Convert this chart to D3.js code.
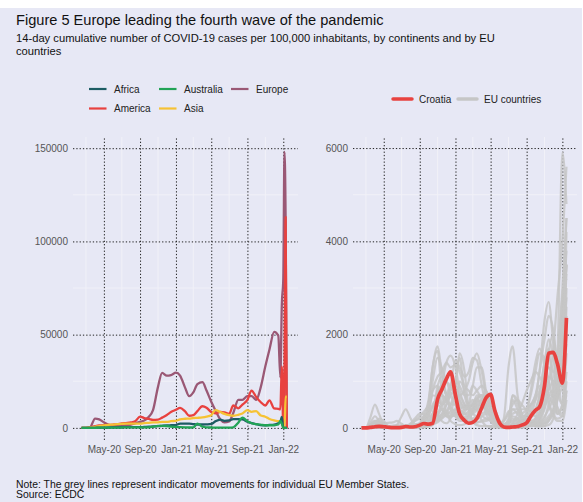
<!DOCTYPE html>
<html>
<head>
<meta charset="utf-8">
<script src="https://cdn.jsdelivr.net/npm/d3@7"></script>
<style>
  body { margin: 0; background: #fff; }
  svg { display: block; font-family: "Liberation Sans", Arial, sans-serif; }
</style>
</head>
<body>
<script>
// ---- data ----
// continents panel: semi-monthly points, then a short tail at the end of 2021
var leftDates = ["2020-02-15","2020-03-01","2020-03-15","2020-04-01","2020-04-15","2020-05-01","2020-05-15","2020-06-01","2020-06-15","2020-07-01","2020-07-15","2020-08-01","2020-08-15","2020-09-01","2020-09-15","2020-10-01","2020-10-15","2020-11-01","2020-11-15","2020-12-01","2020-12-15",
  "2021-01-01","2021-01-15","2021-02-01","2021-02-15","2021-03-01","2021-03-15","2021-04-01","2021-04-15","2021-05-01","2021-05-15","2021-06-01","2021-06-15","2021-07-01","2021-07-15","2021-08-01","2021-08-15","2021-09-01","2021-09-15","2021-10-01","2021-10-15","2021-11-01","2021-11-15","2021-12-01","2021-12-15",
  "2021-12-22","2021-12-27","2022-01-01","2022-01-05","2022-01-09","2022-01-13"];

var africa    = [0,0,0,50,100,150,200,250,300,350,400,400,400,400,500,600,800,900,1100,1300,1400,1500,2300,2300,2300,2000,1800,1800,1900,2100,3500,4400,3800,4000,4700,4700,4500,3300,2600,2000,1500,1400,1600,1800,2500, 3200,5900,0,0,0,0];
var america   = [0,0,300,900,1300,1500,1600,1800,2000,2400,2600,2900,3500,6000,5300,4800,4300,4400,5500,6900,8500,9700,10700,8800,6500,6800,9000,11600,10800,8500,7800,8600,8300,7500,12000,10500,12500,15000,20000,16500,14000,12000,14800,10400,10200, 10000,33000,0,30000,113000,0];
var australia = [0,0,0,50,100,100,100,100,150,200,300,300,300,300,300,300,600,1100,1100,1000,700,500,400,300,200,300,2300,600,300,200,100,100,100,100,300,2800,5500,3500,2500,2000,1800,1400,1400,1400,1800, 3800,2300,0,0,0,0];
var asia      = [0,0,200,500,1000,1300,1600,1800,2000,2200,2300,2300,2300,2300,2500,2700,2900,3000,3200,3200,3600,3800,4600,4900,5000,5300,5400,5600,6000,6800,9500,8500,7500,6800,6500,7000,7700,9500,8600,9000,6800,6000,4800,4000,3600, 3300,3200,0,0,16700,16700];
var europe    = [0,0,300,5000,4600,3000,1800,1100,1000,1000,1300,1800,2400,3200,4000,6000,9500,22000,29500,28000,28300,29600,28000,21600,17000,19000,23500,24500,20000,14000,9500,4500,3000,3500,8000,15000,15000,17000,17000,15000,21000,33000,42000,51500,49500, 27000,66000,80000,148000,110000,0];

var continentNames  = ["Africa","Australia","Europe","America","Asia"];
var continentColors = ["#1d5c63","#22a356","#9a5875","#e8413f","#f6c234"];

// EU panel: semi-monthly points
var rightDates = ["2020-02-15","2020-03-01","2020-03-15","2020-04-01","2020-04-15","2020-05-01","2020-05-15","2020-06-01","2020-06-15","2020-07-01","2020-07-15","2020-08-01","2020-08-15","2020-09-01","2020-09-15","2020-10-01","2020-10-15","2020-11-01","2020-11-15","2020-12-01","2020-12-15",
  "2021-01-01","2021-01-15","2021-02-01","2021-02-15","2021-03-01","2021-03-15","2021-04-01","2021-04-15","2021-05-01","2021-05-15","2021-06-01","2021-06-15","2021-07-01","2021-07-15","2021-08-01","2021-08-15","2021-09-01","2021-09-15","2021-10-01","2021-10-15","2021-11-01","2021-11-15","2021-12-01","2021-12-15",
  "2022-01-01","2022-01-15"];

var croatia = [0,0,10,25,35,25,15,5,5,10,30,20,25,60,95,80,100,620,820,1050,1200,700,300,160,100,120,200,440,640,720,380,100,20,10,20,30,60,110,250,380,450,900,1600,1620,1380,960,2360];

var euCountries = [
  [0,0,5,20,25,15,10,8,10,15,30,30,35,80,250,600,1300,1750,1200,700,900,1450,1300,1100,1200,1500,1450,900,500,300,130,50,20,15,20,20,25,40,60,80,200,700,1600,2000,1300,900,1800],
  [0,0,10,40,30,10,5,2,5,15,20,15,10,30,90,300,800,1100,1200,1400,1300,1350,1200,900,800,700,800,900,800,600,350,150,60,20,30,60,100,300,500,700,1200,2300,2700,1800,900,900,2600],
  [0,5,30,120,150,80,30,15,10,15,40,50,40,60,150,500,1300,1650,800,350,250,280,250,230,260,350,450,500,400,300,200,100,60,100,150,200,200,190,220,350,700,1400,1900,1500,900,1300,4200],
  [0,5,200,500,300,70,20,15,60,250,400,200,80,100,180,400,1000,1500,1300,1000,900,700,500,400,400,500,600,500,400,300,200,100,60,80,200,150,150,120,150,200,350,700,1100,1000,900,1800,3500],
  [0,0,10,70,80,50,15,8,5,5,15,40,40,60,180,400,700,650,500,600,800,950,600,450,450,500,550,600,600,550,400,150,60,100,600,400,200,120,100,150,300,900,1500,1200,700,900,3000],
  [0,5,30,40,40,30,15,10,5,5,5,15,20,30,50,60,80,150,200,300,500,700,350,150,90,100,120,140,150,200,220,150,70,100,250,200,100,50,40,60,180,450,900,1700,2800,4000,5600],
  [0,0,20,100,200,150,50,10,5,5,10,20,60,80,150,300,450,300,150,100,200,1000,1500,700,400,300,250,250,200,150,100,100,150,300,500,600,500,400,500,600,800,1100,1300,1200,1600,5900,4800],
  [0,0,10,30,20,5,2,0,0,0,2,5,10,15,20,40,80,120,200,350,500,500,400,300,250,300,400,600,800,400,150,50,200,1300,1750,700,300,150,100,90,120,250,400,600,700,2500,4500],
  [0,0,30,150,120,60,40,50,60,50,30,20,20,40,80,150,300,600,700,600,500,900,1600,1200,400,150,60,40,40,40,50,80,150,350,400,300,200,150,90,60,80,150,250,400,700,2200,3800],
  [0,0,30,50,30,10,3,2,2,3,5,5,10,20,40,60,100,150,250,500,700,800,700,800,1000,1400,1600,1200,700,400,200,60,20,20,80,200,300,400,700,1200,1600,1500,1000,600,300,500,2000],
  [0,0,1,5,10,10,5,2,1,1,2,5,20,100,250,300,450,700,900,1000,700,500,300,350,500,900,1300,1300,800,400,150,30,10,5,5,5,10,30,80,200,600,1000,1300,900,400,250,800],
  [0,0,5,20,10,5,2,2,3,5,10,10,15,40,120,250,500,600,500,600,800,1000,900,700,700,900,800,600,300,150,50,20,10,5,10,20,50,150,300,600,1200,1900,2400,2100,1200,500,1200],
  [0,0,10,20,10,5,5,3,2,2,5,10,20,30,40,80,200,500,900,1400,1550,1300,800,500,400,400,500,600,700,600,400,150,50,40,100,300,500,800,1000,1200,1100,900,700,500,350,400,1600],
  [0,0,100,250,150,40,10,5,5,10,30,100,200,300,300,250,300,500,400,250,220,400,1000,800,400,150,120,150,200,200,150,100,80,200,700,600,300,150,80,40,40,50,150,400,1100,2800,3200],
  [0,0,5,10,10,5,2,1,1,1,1,2,3,5,10,30,80,200,300,500,700,800,700,500,400,400,400,450,500,400,200,60,20,20,30,60,150,350,800,1400,1700,1300,600,300,200,250,1000],
  [0,0,20,120,100,40,10,10,10,20,40,60,150,250,350,500,800,900,500,250,250,300,400,450,450,500,600,700,600,400,250,100,50,100,400,400,250,150,100,80,100,200,500,800,1500,3000,4500],
  [0,0,60,150,50,10,5,5,10,15,30,50,60,80,150,200,300,900,1100,700,400,300,250,300,350,400,500,500,400,250,100,40,20,20,50,100,200,280,300,400,700,1400,1700,700,300,500,2400],
  [0,0,60,130,100,50,15,8,5,5,5,8,20,35,40,50,150,500,700,600,450,350,350,300,300,400,600,550,450,300,200,80,30,20,40,120,150,120,90,60,60,100,200,350,600,1800,3500],
  [0,0,20,80,80,40,15,8,5,5,8,12,20,25,25,30,60,200,280,300,350,400,300,200,130,130,180,250,300,280,150,40,15,10,15,40,100,150,150,120,150,400,700,700,450,300,800],
  [0,0,2,15,20,20,20,15,15,10,10,15,20,20,25,60,250,800,900,700,400,250,200,180,200,350,600,700,500,250,100,30,10,5,5,5,10,20,50,120,250,500,800,1000,750,500,700],
  [0,0,10,60,90,100,110,120,150,90,40,30,20,20,30,60,120,300,500,700,900,800,600,450,450,550,650,700,650,500,300,100,40,30,60,100,150,150,100,80,80,100,150,300,600,1500,2800],
  [0,0,5,10,10,5,2,1,1,2,5,20,40,50,50,60,100,250,400,300,150,80,60,80,150,200,250,300,350,300,250,120,80,150,300,350,400,400,350,250,250,450,700,800,700,1800,3300],
  [0,0,20,60,50,20,5,2,1,1,5,80,150,200,250,150,200,300,400,350,300,250,300,400,500,600,400,150,50,20,10,5,5,50,700,500,300,150,80,40,30,40,60,200,700,2200,3500],
  [0,0,2,5,8,8,10,15,20,40,60,60,40,30,30,50,150,600,900,700,450,250,150,150,250,450,700,700,450,200,80,20,10,5,10,30,80,200,400,700,900,800,500,250,150,150,600]
];

var leftTicks  = [0, 50000, 100000, 150000];
var rightTicks = [0, 2000, 4000, 6000];
var dateTicks  = ["2020-05-01","2020-09-01","2021-01-01","2021-05-01","2021-09-01","2022-01-01"];
var minorDates = ["2020-03-01","2020-07-01","2020-11-01","2021-03-01","2021-07-01","2021-11-01"];

// ---- setup ----
var W = 583, H = 502;
var parseDate = d3.timeParse("%Y-%m-%d");
var bg = "#e7e8f5";

var svg = d3.select("body").append("svg")
    .attr("width", W)
    .attr("height", H);

svg.append("rect")
    .attr("x", 0).attr("y", 8)
    .attr("width", 582).attr("height", H - 8)
    .attr("fill", bg);

// title + subtitle
svg.append("text")
    .attr("x", 16).attr("y", 25)
    .style("font-size", "14.6px")
    .style("fill", "#111")
    .text("Figure 5 Europe leading the fourth wave of the pandemic");

svg.append("text")
    .attr("x", 16).attr("y", 42)
    .style("font-size", "11.2px")
    .style("fill", "#111")
    .text("14-day cumulative number of COVID-19 cases per 100,000 inhabitants, by continents and by EU");
svg.append("text")
    .attr("x", 16).attr("y", 54.5)
    .style("font-size", "11.2px")
    .style("fill", "#111")
    .text("countries");

// notes
svg.append("text")
    .attr("x", 16).attr("y", 488)
    .style("font-size", "10.4px")
    .style("fill", "#111")
    .text("Note: The grey lines represent indicator movements for individual EU Member States.");
svg.append("text")
    .attr("x", 16).attr("y", 498)
    .style("font-size", "10.4px")
    .style("fill", "#111")
    .text("Source: ECDC");

var dateDomain = [parseDate("2020-01-17"), parseDate("2022-02-20")];
var plotTop = 137, plotBottom = 440;

// draws gridlines + axes of one panel, returns the scales
function panel(x0, x1, yDomain, yTicks) {
    var x = d3.scaleTime().domain(dateDomain).range([x0, x1]);
    var y = d3.scaleLinear().domain(yDomain).range([plotBottom, plotTop]);
    var g = svg.append("g");

    // faint minor grid
    var minorY = d3.range(yTicks.length - 1).map(function(i) { return (yTicks[i] + yTicks[i + 1]) / 2; });
    g.selectAll(".minorH").data(minorY).enter().append("line")
        .attr("x1", x0).attr("x2", x1)
        .attr("y1", function(d) { return y(d); }).attr("y2", function(d) { return y(d); })
        .style("stroke", "#f1f1f8").style("stroke-width", 1);
    g.selectAll(".minorV").data(minorDates).enter().append("line")
        .attr("x1", function(d) { return x(parseDate(d)); }).attr("x2", function(d) { return x(parseDate(d)); })
        .attr("y1", plotTop).attr("y2", plotBottom)
        .style("stroke", "#f1f1f8").style("stroke-width", 1);

    // y axis with dotted gridlines
    var ya = g.append("g")
        .attr("transform", "translate(" + x0 + ",0)")
        .call(d3.axisLeft(y).tickValues(yTicks).tickSize(-(x1 - x0)).tickPadding(5).tickFormat(d3.format("d")));
    // x axis with dotted gridlines
    var xa = g.append("g")
        .attr("transform", "translate(0," + plotBottom + ")")
        .call(d3.axisBottom(x).tickValues(dateTicks.map(parseDate)).tickSize(-(plotBottom - plotTop)).tickPadding(6)
              .tickFormat(d3.timeFormat("%b-%y")));

    [ya, xa].forEach(function(a) {
        a.select(".domain").remove();
        a.selectAll(".tick line")
            .style("stroke", "#222")
            .style("stroke-width", 1)
            .style("stroke-dasharray", "1.3,2");
        a.selectAll(".tick text")
            .style("font-family", "Liberation Sans, Arial, sans-serif")
            .style("font-size", "10px")
            .style("fill", "#555");
    });
    return { x: x, y: y };
}

// ---- left: continents ----
var L = panel(73, 298, [-6500, 156000], leftTicks);
var leftParsed = leftDates.map(parseDate);
var lineL = d3.line()
    .x(function(d, i) { return L.x(leftParsed[i]); })
    .y(function(d) { return L.y(d); })
    .curve(d3.curveMonotoneX);

var contSeries = [
    { vals: europe,    col: continentColors[2] },
    { vals: america,   col: continentColors[3] },
    { vals: asia,      col: continentColors[4] },
    { vals: africa,    col: continentColors[0] },
    { vals: australia, col: continentColors[1] }
];
svg.selectAll(".cont").data(contSeries).enter().append("path")
    .attr("d", function(d) { return lineL(d.vals); })
    .style("fill", "none")
    .style("stroke", function(d) { return d.col; })
    .style("stroke-width", 2.3)
    .style("stroke-linejoin", "round");

// legend left
var legL = [
    { name: "Africa",    col: continentColors[0], x: 89,  y: 89 },
    { name: "Australia", col: continentColors[1], x: 159, y: 89 },
    { name: "Europe",    col: continentColors[2], x: 231, y: 89 },
    { name: "America",   col: continentColors[3], x: 89,  y: 108.5 },
    { name: "Asia",      col: continentColors[4], x: 159, y: 108.5 }
];
var lg = svg.selectAll(".legL").data(legL).enter().append("g");
lg.append("line")
    .attr("x1", function(d) { return d.x; }).attr("x2", function(d) { return d.x + 17.5; })
    .attr("y1", function(d) { return d.y; }).attr("y2", function(d) { return d.y; })
    .style("stroke", function(d) { return d.col; })
    .style("stroke-width", 2.2);
lg.append("text")
    .attr("x", function(d) { return d.x + 25; })
    .attr("y", function(d) { return d.y; })
    .attr("dy", "0.35em")
    .style("font-size", "10px")
    .style("fill", "#222")
    .text(function(d) { return d.name; });

// ---- right: EU countries ----
var R = panel(353, 577, [-259, 6237], rightTicks);
var rightParsed = rightDates.map(parseDate);
var lineR = d3.line()
    .x(function(d, i) { return R.x(rightParsed[i]); })
    .y(function(d) { return R.y(d); })
    .curve(d3.curveMonotoneX);

svg.selectAll(".eu").data(euCountries).enter().append("path")
    .attr("d", function(d) { return lineR(d); })
    .style("fill", "none")
    .style("stroke", "#c6c6c6")
    .style("stroke-width", 2.2)
    .style("stroke-opacity", 0.85);

svg.append("path")
    .attr("d", lineR(croatia))
    .style("fill", "none")
    .style("stroke", "#e8423f")
    .style("stroke-width", 3.7)
    .style("stroke-linejoin", "round");

// legend right
var legR = [
    { name: "Croatia",      col: "#e8423f", x: 393, w: 3.5 },
    { name: "EU countries", col: "#c6c6c6", x: 458, w: 3.5 }
];
var rg = svg.selectAll(".legR").data(legR).enter().append("g");
rg.append("line")
    .attr("x1", function(d) { return d.x; }).attr("x2", function(d) { return d.x + 19; })
    .attr("y1", 99).attr("y2", 99)
    .style("stroke", function(d) { return d.col; })
    .style("stroke-width", function(d) { return d.w; })
    .style("stroke-linecap", "round");
rg.append("text")
    .attr("x", function(d) { return d.x + 26; })
    .attr("y", 99)
    .attr("dy", "0.35em")
    .style("font-size", "10px")
    .style("fill", "#222")
    .text(function(d) { return d.name; });
</script>
</body>
</html>
